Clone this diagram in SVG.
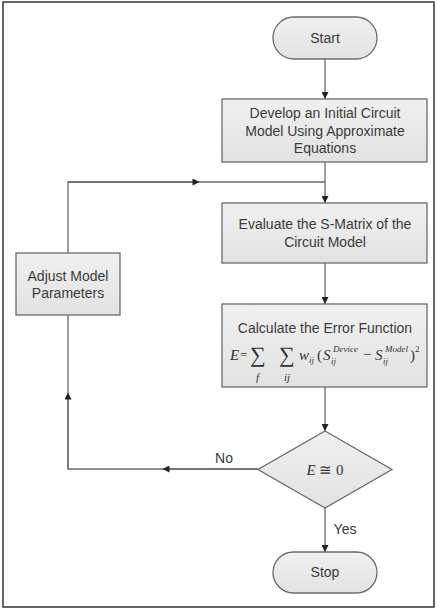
<svg xmlns="http://www.w3.org/2000/svg" width="437" height="611" viewBox="0 0 437 611">
<defs>
<linearGradient id="g" x1="0" y1="0" x2="0" y2="1">
<stop offset="0" stop-color="#f0f0f0"/>
<stop offset="1" stop-color="#e2e2e2"/>
</linearGradient>
<marker id="ah" viewBox="0 0 10 10" refX="10" refY="5" markerWidth="7" markerHeight="7" markerUnits="userSpaceOnUse" orient="auto">
<path d="M0,0 L10,5 L0,10 z" fill="#222"/>
</marker>
<marker id="mid" viewBox="0 0 10 10" refX="5" refY="5" markerWidth="8" markerHeight="7" markerUnits="userSpaceOnUse" orient="auto">
<path d="M0,0 L10,5 L0,10 z" fill="#222"/>
</marker>
</defs>
<style>
.shape{fill:url(#g);stroke:#6a6a6a;stroke-width:1.3}
.t{font-family:"Liberation Sans",Arial,sans-serif;font-size:14px;fill:#3a3a3a;text-anchor:middle}
.m{font-family:"Liberation Serif","Times New Roman",serif;font-style:italic;fill:#333}
.n{font-family:"Liberation Serif","Times New Roman",serif;fill:#333}
.c{fill:none;stroke:#6a6a6a;stroke-width:1.3}
</style>
<rect x="3" y="2" width="431" height="605" fill="#fff" stroke="#333" stroke-width="1.5"/>
<g id="connectors">
<path class="c" d="M325,59 V99" marker-end="url(#ah)"/>
<path class="c" d="M325,162 V203" marker-end="url(#ah)"/>
<path class="c" d="M68,253 V182 H325"/>
<path class="c" d="M68,182 H196"  marker-end="url(#mid)"/>
<path class="c" d="M325,263 V304" marker-end="url(#ah)"/>
<path class="c" d="M325,387 V431" marker-end="url(#ah)"/>
<path class="c" d="M258,469 H68 V315"/>
<path class="c" d="M258,469 H166" marker-end="url(#mid)"/>
<path class="c" d="M68,469 V396" marker-end="url(#mid)"/>
<path class="c" d="M325,508 V552" marker-end="url(#ah)"/>
<text class="t" x="224" y="463">No</text>
<text class="t" x="345" y="534">Yes</text>
</g>
<g id="start">
<rect class="shape" x="273" y="17" width="104" height="42" rx="21"/>
<text class="t" x="325" y="43">Start</text>
</g>
<g id="develop">
<rect class="shape" x="222" y="99" width="205" height="63"/>
<text class="t" x="325" y="118">Develop an Initial Circuit</text>
<text class="t" x="325" y="136">Model Using Approximate</text>
<text class="t" x="325" y="153">Equations</text>
</g>
<g id="evaluate">
<rect class="shape" x="222" y="203" width="205" height="60"/>
<text class="t" x="325" y="229">Evaluate the S-Matrix of the</text>
<text class="t" x="325" y="247">Circuit Model</text>
</g>
<g id="calculate">
<rect class="shape" x="222" y="304" width="205" height="83"/>
<text class="t" x="325" y="333">Calculate the Error Function</text>
<text class="m" x="230" y="360" font-size="15">E</text>
<text class="n" x="240" y="359" font-size="13">=</text>
<text class="n" x="250" y="362" font-size="22">∑</text>
<text class="m" x="256" y="381" font-size="11">f</text>
<text class="n" x="279" y="362" font-size="22">∑</text>
<text class="m" x="284" y="381" font-size="11">ij</text>
<text class="m" x="299" y="360" font-size="15">w</text>
<text class="m" x="309" y="363" font-size="9">ij</text>
<text class="n" x="317" y="360" font-size="15">(</text>
<text class="m" x="323" y="360" font-size="15">S</text>
<text class="m" x="331" y="364" font-size="9">ij</text>
<text class="m" x="333" y="352" font-size="9">Device</text>
<text class="n" x="363" y="359" font-size="15">−</text>
<text class="m" x="375" y="360" font-size="15">S</text>
<text class="m" x="383" y="364" font-size="9">ij</text>
<text class="m" x="385" y="352" font-size="9">Model</text>
<text class="n" x="410" y="360" font-size="15">)</text>
<text class="n" x="415" y="352" font-size="9">2</text>
</g>
<g id="adjust">
<rect class="shape" x="16" y="253" width="104" height="62"/>
<text class="t" x="68" y="281">Adjust Model</text>
<text class="t" x="68" y="298">Parameters</text>
</g>
<g id="decision">
<polygon class="shape" points="325,431 392,469.5 325,508 258,469.5"/>
<text class="m" x="325" y="475" font-size="15" text-anchor="middle">E <tspan font-style="normal">≅ 0</tspan></text>
</g>
<g id="stop">
<rect class="shape" x="273" y="552" width="104" height="41" rx="20.5"/>
<text class="t" x="325" y="577">Stop</text>
</g>
</svg>
